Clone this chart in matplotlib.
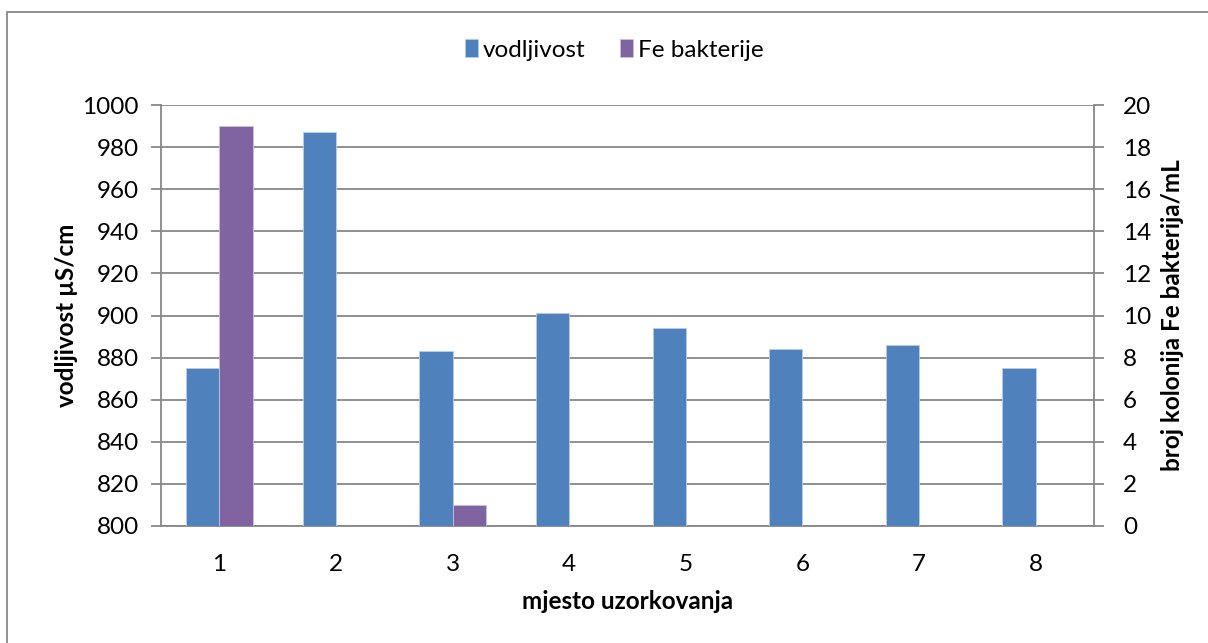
import matplotlib.pyplot as plt
import matplotlib.patches as patches
import numpy as np

mjesta = ['1', '2', '3', '4', '5', '6', '7', '8']
vodljivost = [875, 987, 883, 901, 894, 884, 886, 875]
fe_bakterije = [19, 0, 1, 0, 0, 0, 0, 0]

plt.rcParams['font.family'] = ['Lato', 'DejaVu Sans']

BLUE = '#4F81BD'
PURPLE = '#8064A2'
GRID = '#878787'
FS = 17.5

fig = plt.figure(figsize=(12.08, 6.43), dpi=100)
ax = fig.add_axes([161 / 1208, 1 - 526 / 643, (1094 - 161) / 1208, (526 - 105) / 643])
ax2 = ax.twinx()

x = np.arange(1, len(mjesta) + 1)
w = 0.285

b1 = ax.bar(x - w / 2, [v - 800 for v in vodljivost], w, bottom=800, color=BLUE,
            edgecolor='#B9CDE5', linewidth=0.6, label='vodljivost', zorder=3)
b2 = ax2.bar(x + w / 2, fe_bakterije, w, color=PURPLE,
             edgecolor='#CCC1DA', linewidth=0.6, label='Fe bakterije', zorder=3)

ax.set_xlim(0.5, 8.5)
ax.set_ylim(800, 1000)
ax.set_yticks(range(800, 1001, 20))
ax2.set_ylim(0, 20)
ax2.set_yticks(range(0, 21, 2))
ax.set_xticks(x)
ax.set_xticklabels(mjesta)

ax.grid(axis='y', color=GRID, linewidth=1.3, zorder=0)
ax.set_axisbelow(True)

for a in (ax, ax2):
    for s in a.spines.values():
        s.set_visible(False)
for a, side in ((ax, 'left'), (ax, 'bottom'), (ax2, 'right')):
    a.spines[side].set_visible(True)
    a.spines[side].set_color(GRID)
    a.spines[side].set_linewidth(1.3)

ax.tick_params(axis='y', length=7, width=1.3, color=GRID, labelsize=FS, pad=9)
ax.tick_params(axis='x', length=0, labelsize=FS, pad=20)
ax2.tick_params(axis='y', length=7, width=1.3, color=GRID, labelsize=FS, pad=14)

ax.set_xlabel('mjesto uzorkovanja', fontsize=FS, fontweight='bold', labelpad=11)
ax.set_ylabel('vodljivost µS/cm', fontsize=FS, fontweight='bold', labelpad=3)
ax2.set_ylabel('broj kolonija Fe bakterija/mL', fontsize=FS, fontweight='bold', labelpad=7)

fig.legend(handles=[b1, b2], loc='center', bbox_to_anchor=(614 / 1208, 1 - 50 / 643),
           ncol=2, frameon=False, fontsize=FS, handlelength=0.55, handleheight=0.7,
           handletextpad=0.2, columnspacing=1.4)

fig.patches.append(patches.Rectangle((7 / 1208, -0.1), 1.2, (643 - 12) / 643 + 0.1,
                                     transform=fig.transFigure, fill=False,
                                     edgecolor='#888888', linewidth=1.3))

fig.savefig('out.png', dpi=100)
